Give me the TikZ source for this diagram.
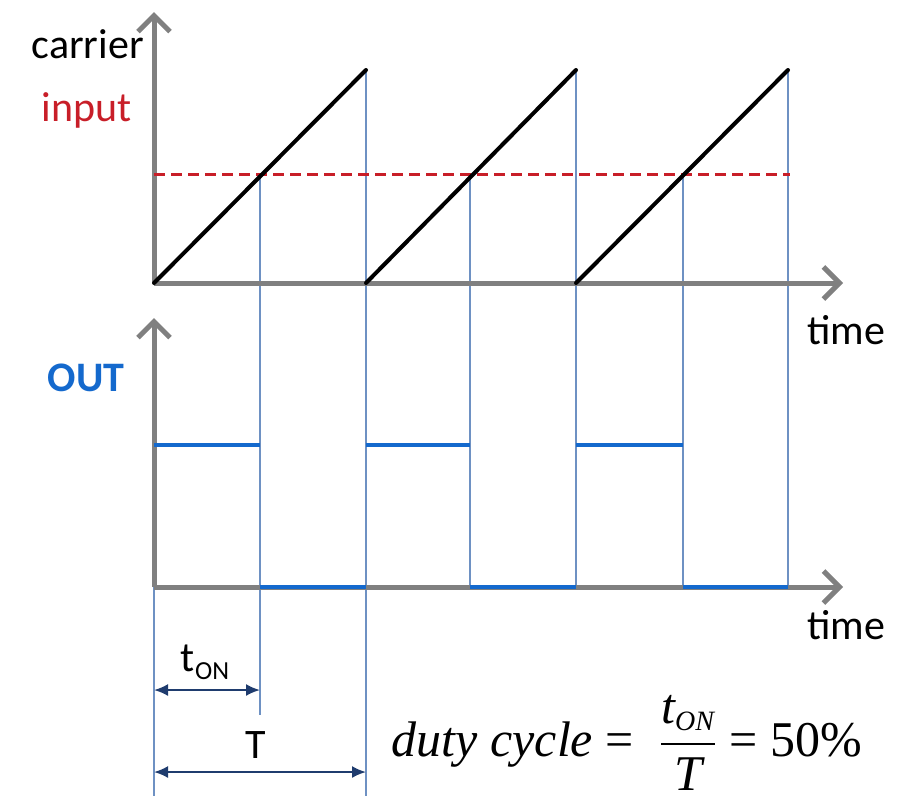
\documentclass[tikz,border=0pt]{standalone}
\usepackage{amsmath}
\usepackage{fontspec}
\setmainfont{Carlito}
\newfontfamily\tnr{Liberation Serif}
\usepackage{tikz}
\usetikzlibrary{arrows.meta,positioning}

\definecolor{axisgray}{RGB}{128,128,128}
\definecolor{inred}{RGB}{200,30,40}
\definecolor{outblue}{RGB}{20,105,205}
\definecolor{guideblue}{RGB}{110,145,195}
\definecolor{dimnavy}{RGB}{31,60,110}

\begin{document}
\begin{tikzpicture}[x=0.5pt, y=-0.5pt,
  lbl/.style={font=\fontsize{21}{25}\selectfont, inner sep=1pt},
  axis/.style={draw=axisgray, line width=2.5pt,
               -{Straight Barb[length=8pt,width=16pt]}},
  ramp/.style={line width=2pt, line cap=round},
  level/.style={draw=inred, line width=1.5pt, dash pattern=on 5.5pt off 3pt},
  pulse/.style={draw=outblue, line width=2pt},
  guide/.style={draw=guideblue, line width=0.6pt},
  dim/.style={draw=dimnavy, line width=1pt,
              {Latex[length=7pt,width=6pt]}-{Latex[length=7pt,width=6pt]}}
]
\useasboundingbox (0,0) rectangle (897,804);

% carrier plot
\coordinate (o1) at (154,283);
\coordinate (y1) at (154,12);
\coordinate (x1) at (843,283);
\coordinate (p1) at (366,70);
\coordinate (p2) at (576,70);
\coordinate (p3) at (788,70);
\coordinate (s2) at (366,283);
\coordinate (s3) at (576,283);
\coordinate (c1) at (260,174);
\coordinate (c2) at (470,174);
\coordinate (c3) at (683,174);
\coordinate (lv0) at (154,174);
\coordinate (lv1) at (790,174);

% output plot
\coordinate (o2) at (154,587);
\coordinate (y2) at (154,318);
\coordinate (x2) at (843,587);
\coordinate (h0) at (154,445);
\coordinate (h1) at (260,445);
\coordinate (h2) at (366,445);
\coordinate (h3) at (470,445);
\coordinate (h4) at (576,445);
\coordinate (h5) at (683,445);
\coordinate (l1) at (260,587);
\coordinate (l2) at (366,587);
\coordinate (l3) at (470,587);
\coordinate (l4) at (576,587);
\coordinate (l5) at (683,587);
\coordinate (l6) at (788,587);

% dimension feet
\coordinate (f0) at (154,796);
\coordinate (f1) at (260,715);
\coordinate (f2) at (366,796);
\coordinate (a0) at (154,690);
\coordinate (a1) at (260,690);
\coordinate (b0) at (154,772);
\coordinate (b2) at (366,772);

% guides
\draw[guide] (c1) -- (f1);
\draw[guide] (p1) -- (f2);
\draw[guide] (c2) -- (l3);
\draw[guide] (p2) -- (l4);
\draw[guide] (c3) -- (l5);
\draw[guide] (p3) -- (l6);
\draw[guide] (o2) -- (f0);

% axes
\draw[axis] (o1) -- (y1);
\draw[axis] (o1) -- (x1);
\draw[axis] (o2) -- (y2);
\draw[axis] (o2) -- (x2);

% signals
\draw[level] (lv0) -- (lv1);
\draw[ramp] (o1) -- (p1);
\draw[ramp] (s2) -- (p2);
\draw[ramp] (s3) -- (p3);
\draw[pulse] (h0) -- (h1);
\draw[pulse] (h2) -- (h3);
\draw[pulse] (h4) -- (h5);
\draw[pulse] (l1) -- (l2);
\draw[pulse] (l3) -- (l4);
\draw[pulse] (l5) -- (l6);

% labels
\node[lbl, anchor=east] (carrier) at (146,44) {carrier};
\node[lbl, anchor=east, text=inred] (input) at (134,110) {input};
\node[lbl, anchor=east, text=outblue, font=\fontsize{21}{25}\selectfont\bfseries] (out) at (127,378) {OUT};
\node[lbl, anchor=west] (time1) at (805,330) {time};
\node[lbl, anchor=west] (time2) at (805,625) {time};
\node[lbl] (ton) at (205,662) {t{\raisebox{-4pt}{\fontsize{13}{13}\selectfont ON}}};
\node[lbl] (per) at (256,745) {T};
\node[lbl, font=\fontsize{25}{30}\selectfont] (duty) at (627,743)
  {{\tnr\itshape duty cycle}{\tnr\ =\ \ }$\dfrac{\mbox{\tnr\itshape t}_{\mbox{\tnr\itshape\fontsize{14}{14}\selectfont ON}}}{\mbox{\tnr\itshape T}}${\tnr\ = 50\%}};

% dimensions
\draw[dim] (a0) -- (a1);
\draw[dim] (b0) -- (b2);
\end{tikzpicture}
\end{document}
